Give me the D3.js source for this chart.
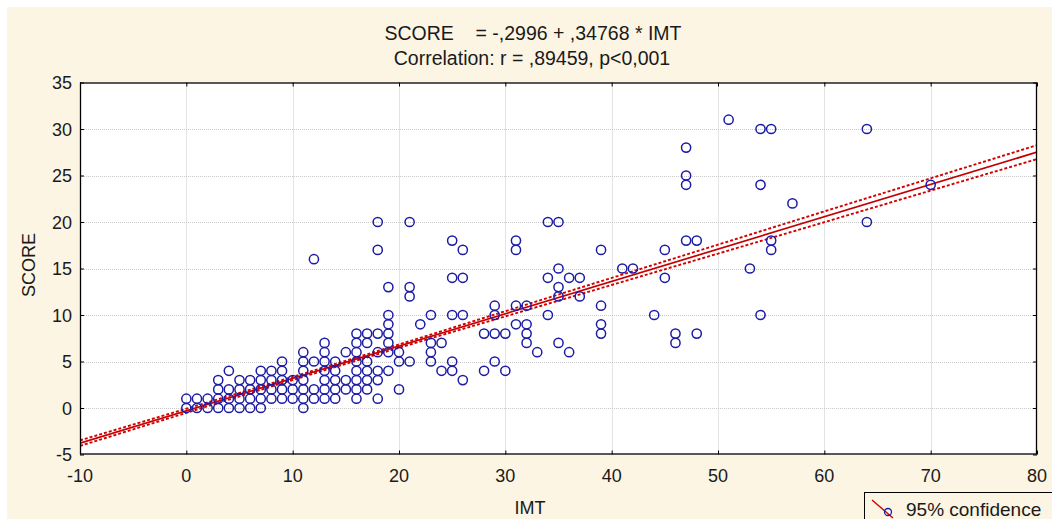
<!DOCTYPE html>
<html>
<head>
<meta charset="utf-8">
<script src="https://cdn.jsdelivr.net/npm/d3@7"></script>
<style>
  html, body { margin: 0; padding: 0; background: #ffffff; }
  svg { display: block; font-family: "Liberation Sans", Arial, sans-serif; }
</style>
</head>
<body>
<svg id="chart" width="1052" height="519"></svg>
<script>
// ---- Data ----
const titleLine1 = "SCORE    = -,2996 + ,34768 * IMT";
const titleLine2 = "Correlation: r = ,89459, p<0,001";
const xLabel = "IMT";
const yLabel = "SCORE";
const legendLabel = "95% confidence";

const xTicks = [-10, 0, 10, 20, 30, 40, 50, 60, 70, 80];
const yTicks = [-5, 0, 5, 10, 15, 20, 25, 30, 35];

const intercept = -0.2996;
const slope = 0.34768;

// observed IMT values (one per column) and the SCORE values at each
const imtColumns = [0, 1, 2, 3, 4, 5, 6, 7, 8, 9, 10, 11, 12, 13, 14, 15, 16, 17, 18, 19, 20,
  21, 22, 23, 24, 25, 26, 28, 29, 30, 31, 32, 33, 34, 35, 36, 37, 39, 41, 42, 44, 45, 46, 47,
  48, 51, 53, 54, 55, 57, 64, 70];
const scoresByImt = [
  [1, 0], [1, 0], [1, 0], [3, 2, 1, 0], [4, 2, 1, 0], [3, 2, 1, 0], [3, 2, 1, 0],
  [4, 3, 2, 1, 0], [4, 3, 2, 1], [5, 4, 3, 2, 1], [3, 2, 1], [6, 5, 4, 3, 2, 1, 0],
  [16, 5, 2, 1], [7, 6, 5, 4, 3, 2, 1], [5, 4, 3, 2, 1], [6, 3, 2], [8, 7, 6, 5, 4, 3, 2, 1],
  [8, 7, 5, 4, 3, 2], [20, 17, 8, 6, 4, 3, 1], [13, 10, 9, 8, 7, 6, 4], [6, 5, 2],
  [20, 13, 12, 5], [9], [10, 7, 6, 5], [7, 4], [18, 14, 10, 5, 4], [17, 14, 10, 3],
  [8, 4], [11, 10, 8, 5], [8, 4], [18, 17, 11, 9], [11, 9, 8, 7], [6], [20, 14, 10],
  [20, 15, 13, 12, 7], [14, 6], [14, 12], [17, 11, 9, 8], [15], [15], [10], [17, 14],
  [8, 7], [28, 25, 24, 18], [18, 8], [31], [15], [30, 24, 10], [30, 18, 17], [22],
  [30, 20], [24]
];

// 95% confidence band half-widths (SCORE units) read at these IMT values
const bandImt = [-10, 0, 10, 20, 30, 40, 50, 60, 70, 80];
const bandHalf = [0.3, 0.22, 0.17, 0.18, 0.28, 0.38, 0.48, 0.58, 0.66, 0.75];

// ---- Layout ----
const svg = d3.select("#chart");
const W = 1052, H = 519;
const plot = { left: 80, right: 1037, top: 82.5, bottom: 454.5 };

svg.append("rect").attr("x", 0).attr("y", 0).attr("width", W).attr("height", H).attr("fill", "#ffffff");
svg.append("rect").attr("x", 7).attr("y", 7).attr("width", W - 7).attr("height", H - 7).attr("fill", "#fcf5e4");

const x = d3.scaleLinear().domain([-10, 80]).range([plot.left, plot.right]);
const y = d3.scaleLinear().domain([-5, 35]).range([plot.bottom, plot.top]);

// plot background
svg.append("rect")
  .attr("x", plot.left).attr("y", plot.top)
  .attr("width", plot.right - plot.left).attr("height", plot.bottom - plot.top)
  .attr("fill", "#ffffff");

// gridlines
const grid = svg.append("g").attr("stroke", "#c9c9c9").attr("stroke-width", 1).attr("stroke-dasharray", "1,1");
xTicks.slice(1, -1).forEach(t => {
  grid.append("line").attr("x1", Math.round(x(t)) + 0.5).attr("x2", Math.round(x(t)) + 0.5)
    .attr("y1", plot.top).attr("y2", plot.bottom);
});
yTicks.slice(1, -1).forEach(t => {
  grid.append("line").attr("y1", Math.round(y(t)) + 0.5).attr("y2", Math.round(y(t)) + 0.5)
    .attr("x1", plot.left).attr("x2", plot.right);
});

// clip
svg.append("clipPath").attr("id", "clip").append("rect")
  .attr("x", plot.left).attr("y", plot.top)
  .attr("width", plot.right - plot.left).attr("height", plot.bottom - plot.top);

const content = svg.append("g").attr("clip-path", "url(#clip)");

// regression + confidence band
const fit = v => intercept + slope * v;
const bandUpper = bandImt.map((v, i) => [v, fit(v) + bandHalf[i]]);
const bandLower = bandImt.map((v, i) => [v, fit(v) - bandHalf[i]]);
const lineGen = d3.line().x(d => x(d[0])).y(d => y(d[1])).curve(d3.curveMonotoneX);

[bandUpper, bandLower].forEach(b => {
  content.append("path").attr("d", lineGen(b)).attr("fill", "none")
    .attr("stroke", "#d40000").attr("stroke-width", 1.9).attr("stroke-dasharray", "3,2");
});
content.append("path").attr("d", lineGen([[-10, fit(-10)], [80, fit(80)]]))
  .attr("fill", "none").attr("stroke", "#c40000").attr("stroke-width", 1.7);

// points
const points = [];
imtColumns.forEach((v, i) => scoresByImt[i].forEach(s => points.push([v, s])));
content.append("g").selectAll("circle").data(points).join("circle")
  .attr("cx", d => x(d[0])).attr("cy", d => y(d[1])).attr("r", 4.6)
  .attr("fill", "none").attr("stroke", "#1c1ca6").attr("stroke-width", 1.5);

// frame
svg.append("rect")
  .attr("x", plot.left + 0.5).attr("y", plot.top + 0.5)
  .attr("width", plot.right - plot.left - 1).attr("height", plot.bottom - plot.top - 1)
  .attr("fill", "none").attr("stroke", "#000").attr("stroke-width", 1.3);

// inside ticks on all four sides via d3 axes
const tickLen = 4;
svg.append("g").attr("transform", `translate(0,${plot.bottom})`)
  .call(d3.axisBottom(x).tickValues(xTicks).tickSize(-tickLen).tickFormat(""))
  .call(g => g.select(".domain").remove());
svg.append("g").attr("transform", `translate(0,${plot.top})`)
  .call(d3.axisTop(x).tickValues(xTicks).tickSize(-tickLen).tickFormat(""))
  .call(g => g.select(".domain").remove());
svg.append("g").attr("transform", `translate(${plot.left},0)`)
  .call(d3.axisLeft(y).tickValues(yTicks).tickSize(-tickLen).tickFormat(""))
  .call(g => g.select(".domain").remove());
svg.append("g").attr("transform", `translate(${plot.right},0)`)
  .call(d3.axisRight(y).tickValues(yTicks).tickSize(-tickLen).tickFormat(""))
  .call(g => g.select(".domain").remove());

// tick labels
const fmt = v => String(v);
svg.append("g").selectAll("text").data(xTicks).join("text")
  .attr("x", d => x(d)).attr("y", 482)
  .attr("text-anchor", "middle").attr("font-size", 18).attr("fill", "#1a1a1a")
  .text(fmt);
svg.append("g").selectAll("text").data(yTicks).join("text")
  .attr("x", 72).attr("y", d => y(d) + 6.5)
  .attr("text-anchor", "end").attr("font-size", 18).attr("fill", "#1a1a1a")
  .text(fmt);

// titles
svg.append("text").attr("x", 533).attr("y", 40).attr("text-anchor", "middle")
  .attr("font-size", 19.5).attr("fill", "#1a1a1a").attr("xml:space", "preserve")
  .style("white-space", "pre").text(titleLine1);
svg.append("text").attr("x", 532).attr("y", 65).attr("text-anchor", "middle")
  .attr("font-size", 19.5).attr("fill", "#1a1a1a").text(titleLine2);

// axis labels
svg.append("text").attr("x", 530).attr("y", 514).attr("text-anchor", "middle")
  .attr("font-size", 18).attr("fill", "#1a1a1a").text(xLabel);
svg.append("text").attr("transform", "translate(35,265) rotate(-90)").attr("text-anchor", "middle")
  .attr("font-size", 18).attr("fill", "#1a1a1a").text(yLabel);

// legend
const lg = svg.append("g");
lg.append("rect").attr("x", 864.5).attr("y", 492.5).attr("width", 200).attr("height", 40)
  .attr("fill", "#fcf5e4").attr("stroke", "#000").attr("stroke-width", 1);
lg.append("line").attr("x1", 872).attr("y1", 500).attr("x2", 893).attr("y2", 518)
  .attr("stroke", "#d40000").attr("stroke-width", 1.4);
lg.append("circle").attr("cx", 888).attr("cy", 512).attr("r", 3.5)
  .attr("fill", "none").attr("stroke", "#1c1ca6").attr("stroke-width", 1.3);
lg.append("text").attr("x", 906).attr("y", 516).attr("font-size", 19).attr("fill", "#1a1a1a")
  .text(legendLabel);
</script>
</body>
</html>
